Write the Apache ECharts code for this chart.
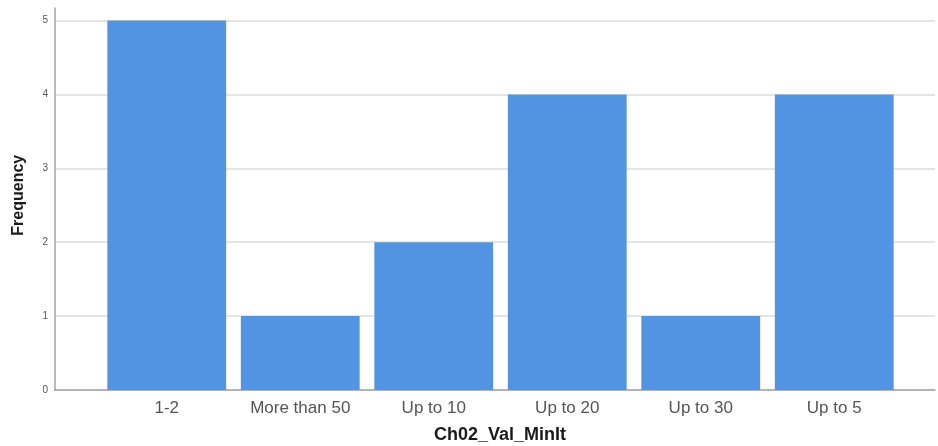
<!DOCTYPE html>
<html>
<head>
<meta charset="utf-8">
<script src="https://cdn.jsdelivr.net/npm/echarts@6/dist/echarts.min.js"></script>
<style>html,body{margin:0;padding:0;background:#fff}#c{width:938px;height:446px}</style>
</head>
<body>
<div id="c"></div>
<script>
const categories = ['1-2', 'More than 50', 'Up to 10', 'Up to 20', 'Up to 30', 'Up to 5'];
const frequencies = [5, 1, 2, 4, 1, 4];
const yTicks = [0, 1, 2, 3, 4, 5];

const chart = echarts.init(document.getElementById('c'));
const font = 'Liberation Sans, Arial, sans-serif';
chart.setOption({
  animation: false,
  grid: [
    {left: 55, right: 3, top: 20.5, bottom: 56, outerBoundsMode: 'none', containLabel: false},
    {left: 100, right: 37, top: 20.5, bottom: 56, outerBoundsMode: 'none', containLabel: false},
    {left: 55, right: 3, top: 8, bottom: 56, outerBoundsMode: 'none', containLabel: false}
  ],
  xAxis: [
    {gridIndex: 0, type: 'value', min: 0, max: 1,
     axisLine: {show: true, onZero: false, lineStyle: {color: '#a3a3a3', width: 1.5}},
     axisTick: {show: false}, axisLabel: {show: false}, splitLine: {show: false},
     name: 'Ch02_Val_MinIt', nameLocation: 'middle', nameGap: 36,
     nameTextStyle: {fontFamily: font, fontSize: 18, fontWeight: 'bold', color: '#1a1a1a', padding: [0, 0, 0, 10]}},
    {gridIndex: 1, type: 'category', data: categories,
     axisLine: {show: false}, axisTick: {show: false},
     axisLabel: {fontFamily: font, fontSize: 17, color: '#555', margin: 10}},
    {gridIndex: 2, type: 'value', show: false}
  ],
  yAxis: [
    {gridIndex: 0, type: 'value', min: yTicks[0], max: yTicks[yTicks.length - 1], interval: 1,
     axisLine: {show: false}, axisTick: {show: false},
     axisLabel: {fontFamily: font, fontSize: 10, color: '#555', margin: 7},
     splitLine: {show: true, lineStyle: {color: '#dcdcdc', width: 1.5}},
     name: 'Frequency', nameLocation: 'middle', nameGap: 28,
     nameTextStyle: {fontFamily: font, fontSize: 16, fontWeight: 'bold', color: '#1a1a1a', padding: [0, 0, 0, 20]}},
    {gridIndex: 1, type: 'value', min: 0, max: 5, show: false},
    {gridIndex: 2, type: 'value', min: 0, max: 1,
     axisLine: {show: true, lineStyle: {color: '#a3a3a3', width: 1.5}},
     axisTick: {show: false}, axisLabel: {show: false}, splitLine: {show: false}}
  ],
  series: [{
    type: 'bar', xAxisIndex: 1, yAxisIndex: 1,
    data: frequencies, barCategoryGap: '11%',
    itemStyle: {color: '#5294e2'}
  }]
});
</script>
</body>
</html>
